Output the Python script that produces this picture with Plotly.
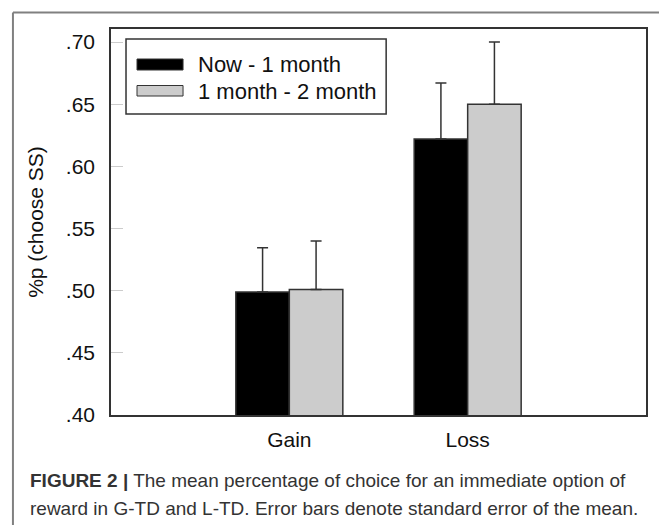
import plotly.graph_objects as go

categories = ["Gain", "Loss"]
series_names = ["Now - 1 month", "1 month - 2 month"]
now_1m = [0.499, 0.622]
now_1m_se = [0.0355, 0.045]
m1_m2 = [0.501, 0.650]
m1_m2_se = [0.039, 0.050]
tick_vals = [0.40, 0.45, 0.50, 0.55, 0.60, 0.65, 0.70]
tick_text = [".40", ".45", ".50", ".55", ".60", ".65", ".70"]
y_title = "%p (choose SS)"
caption_bold = "FIGURE 2 |"
caption_line1 = " The mean percentage of choice for an immediate option of"
caption_line2 = "reward in G-TD and L-TD. Error bars denote standard error of the mean."

W, H = 667, 525
OFF = 8  # page body margin
L, R, T, B = 111, 645.7, 29, 415
FONT = "Liberation Sans, Arial, sans-serif"


def px(x):
    return (x - L) / (R - L)


def py(y):
    return (B - y) / (B - T)


colors = ["#000000", "#cccccc"]
values = [now_1m, m1_m2]
errs = [now_1m_se, m1_m2_se]

fig = go.Figure()
for name, vals, err, col in zip(series_names, values, errs, colors):
    fig.add_trace(go.Bar(
        x=[0, 1], y=vals, name=name,
        marker=dict(color=col, line=dict(color="#333333", width=1.5)),
        error_y=dict(type="data", array=err, arrayminus=[0] * len(err),
                     symmetric=False, color="#333333", thickness=1.5, width=5.5),
        showlegend=False,
    ))

shapes = []
annotations = []
# outer frame (top & left lines)
shapes.append(dict(type="line", xref="paper", yref="paper",
                   x0=px(13), x1=px(690), y0=py(12.5), y1=py(12.5),
                   line=dict(color="#808080", width=2)))
shapes.append(dict(type="line", xref="paper", yref="paper",
                   x0=px(13), x1=px(13), y0=py(12.5), y1=py(560),
                   line=dict(color="#808080", width=2)))
# custom legend box
shapes.append(dict(type="rect", xref="paper", yref="paper",
                   x0=px(126), x1=px(386), y0=py(39), y1=py(114),
                   line=dict(color="#333333", width=1.5), fillcolor="white"))
sw_y = [(59, 70), (85.5, 96)]
txt_y = [64.5, 91]
for i, name in enumerate(series_names):
    shapes.append(dict(type="rect", xref="paper", yref="paper",
                       x0=px(137), x1=px(183), y0=py(sw_y[i][0]), y1=py(sw_y[i][1]),
                       line=dict(color="#333333", width=1), fillcolor=colors[i]))
    annotations.append(dict(xref="paper", yref="paper", x=px(196), y=py(txt_y[i]),
                            text=name, showarrow=False, xanchor="left", yanchor="middle",
                            font=dict(family=FONT, size=22, color="#111111")))
# caption
annotations.append(dict(xref="paper", yref="paper", x=px(28), y=py(480),
                        text="<b>" + caption_bold + "</b>" + caption_line1,
                        showarrow=False, xanchor="left", yanchor="middle",
                        font=dict(family=FONT, size=19, color="#333333")))
annotations.append(dict(xref="paper", yref="paper", x=px(28), y=py(508),
                        text=caption_line2,
                        showarrow=False, xanchor="left", yanchor="middle",
                        font=dict(family=FONT, size=19, color="#333333")))

fig.update_layout(
    width=W, height=H,
    margin=dict(l=L - OFF, r=W - R + OFF, t=T - OFF, b=H - B + OFF, pad=0),
    paper_bgcolor="white", plot_bgcolor="white",
    barmode="group", bargap=0.4, bargroupgap=0,
    font=dict(family=FONT, size=21, color="#111111"),
    shapes=shapes, annotations=annotations,
    xaxis=dict(range=[-1, 2], tickvals=[0, 1], ticktext=categories,
               showgrid=False, zeroline=False, ticks="",
               showline=True, linecolor="#333333", linewidth=1.5, mirror=True,
               ticklabelstandoff=5, tickfont=dict(size=21)),
    yaxis=dict(range=[0.40, 0.7105], tickvals=tick_vals, ticktext=tick_text,
               showgrid=False, zeroline=False, ticks="inside", ticklen=12,
               tickcolor="#cccccc", tickwidth=1,
               showline=True, linecolor="#333333", linewidth=1.5, mirror=True,
               ticklabelstandoff=10, tickfont=dict(size=21),
               title=dict(text=y_title, standoff=16, font=dict(size=21))),
)

fig.write_html("out.html")
